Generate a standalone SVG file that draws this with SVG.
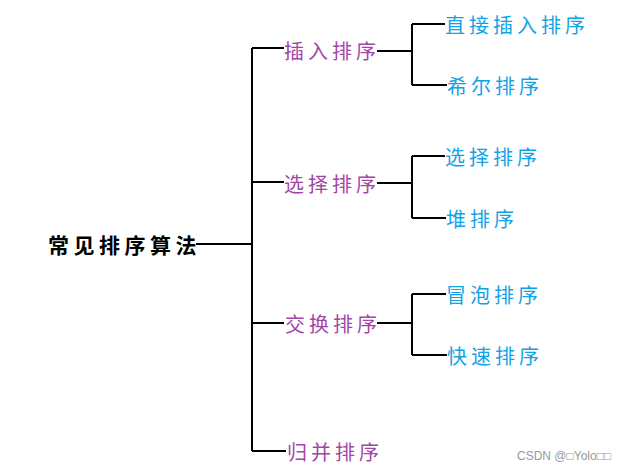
<svg xmlns="http://www.w3.org/2000/svg" width="618" height="470" viewBox="0 0 618 470">
<style>
text{font-family:"Noto Sans CJK SC","Noto Sans",sans-serif;dominant-baseline:central}
.root{font-size:21px;letter-spacing:4.5px;fill:#000;font-weight:bold}
.l1{font-size:20px;letter-spacing:4px;fill:#a146a6}
.l2{font-size:20px;letter-spacing:4px;fill:#13a2e4}
.wm{font-family:"Liberation Sans",Arial,sans-serif;font-size:12px;fill:#999}
.c{stroke:#000;stroke-width:2;fill:none}
</style>
<rect width="618" height="470" fill="#fff"/>
<g id="connectors">
<path class="c" d="M196 244H252M252 48V451M252 48H284M252 182H284M252 323H284M252 451H286"/>
<path class="c" d="M377 51H412M412 24V85M412 24H445M412 85H447"/>
<path class="c" d="M377 183H412M412 156V218M412 156H445M412 218H446"/>
<path class="c" d="M377 323H412M412 294V355M412 294H446M412 355H447"/>
</g>
<g id="root"><text class="root" x="48" y="244">常见排序算法</text></g>
<g id="insert"><text class="l1" x="284" y="50">插入排序</text></g>
<g id="select"><text class="l1" x="284" y="183">选择排序</text></g>
<g id="exchange"><text class="l1" x="285" y="323">交换排序</text></g>
<g id="merge"><text class="l1" x="287" y="451">归并排序</text></g>
<g id="direct"><text class="l2" x="445" y="24">直接插入排序</text></g>
<g id="shell"><text class="l2" x="447" y="85">希尔排序</text></g>
<g id="selsort"><text class="l2" x="445" y="156">选择排序</text></g>
<g id="heap"><text class="l2" x="446" y="218">堆排序</text></g>
<g id="bubble"><text class="l2" x="446" y="294">冒泡排序</text></g>
<g id="quick"><text class="l2" x="447" y="355">快速排序</text></g>
<text class="wm" x="517" y="456">CSDN @□Yolo□□</text>
</svg>
